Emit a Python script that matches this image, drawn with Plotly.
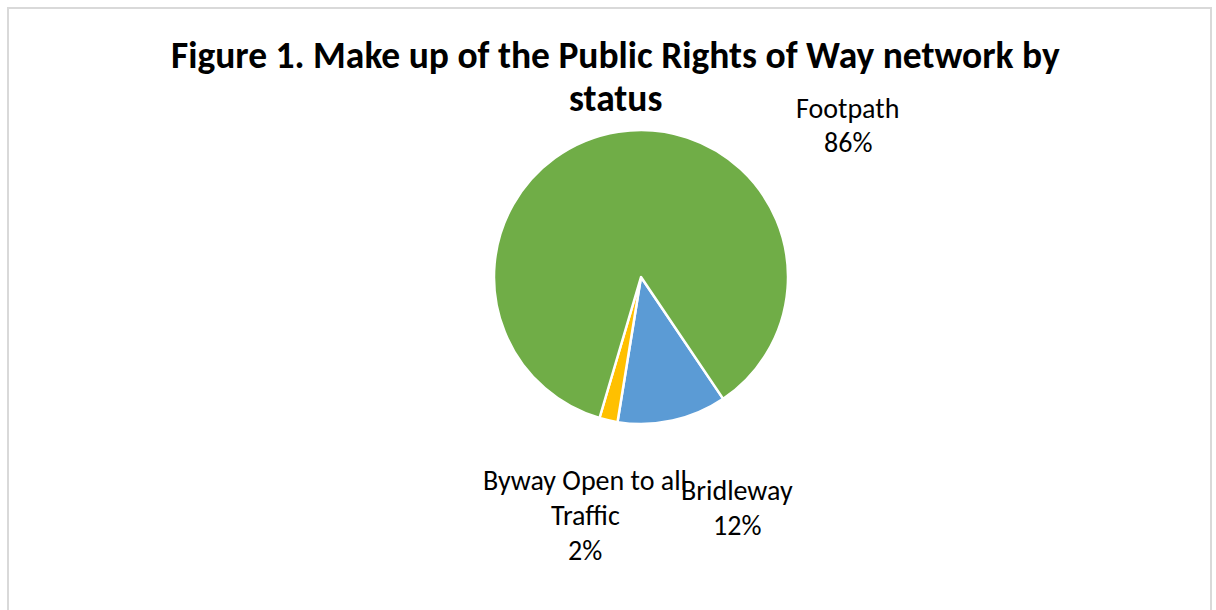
import plotly.graph_objects as go

categories = ["Bridleway", "Byway Open to all Traffic", "Footpath"]
values = [12, 2, 86]
colors = ["#5B9BD5", "#FFC000", "#70AD47"]
label_lines = [["Bridleway", "12%"], ["Byway Open to all", "Traffic", "2%"], ["Footpath", "86%"]]
title_text = "Figure 1. Make up of the Public Rights of Way network by<br>status"

W, H = 1216, 610
FONT = "Carlito, Calibri, Lato, sans-serif"

fig = go.Figure()
fig.add_trace(go.Pie(
    labels=categories, values=values, sort=False, direction="clockwise",
    rotation=146, marker=dict(colors=colors, line=dict(color="white", width=2.5)),
    textinfo="none", hoverinfo="label+percent", showlegend=False,
    domain=dict(x=[494 / W, 788 / W], y=[1 - 424 / H, 1 - 130 / H]),
))

# label positions (pixel centres of first line)
label_pos = [(737, 490), (585, 480), (848, 108)]
annotations = []
for lines, (px, py) in zip(label_lines, label_pos):
    for i, ln in enumerate(lines):
        annotations.append(dict(
            x=px / W, y=1 - (py + i * 35) / H, xref="paper", yref="paper",
            text=ln, showarrow=False, xanchor="center", yanchor="middle",
            font=dict(family=FONT, size=28, color="#000000"),
        ))

title_lines = title_text.split("<br>")
for i, ln in enumerate(title_lines):
    annotations.append(dict(
        x=615 / W, y=1 - (55 + i * 43) / H, xref="paper", yref="paper", text="<b>" + ln + "</b>",
        showarrow=False, xanchor="center", yanchor="middle",
        font=dict(family=FONT, size=37.5, color="#000000"),
    ))

fig.update_layout(
    width=W, height=H, margin=dict(l=0, r=0, t=0, b=0),
    paper_bgcolor="white", plot_bgcolor="white",
    annotations=annotations,
    shapes=[dict(type="rect", xref="paper", yref="paper",
                 x0=8 / W, x1=1211 / W, y0=-0.05, y1=1 - 8 / H,
                 line=dict(color="#D9D9D9", width=2), fillcolor="rgba(0,0,0,0)", layer="below")],
)

fig.write_html("out.html", config={"displayModeBar": False},
               post_script="document.body.style.margin='0';")
